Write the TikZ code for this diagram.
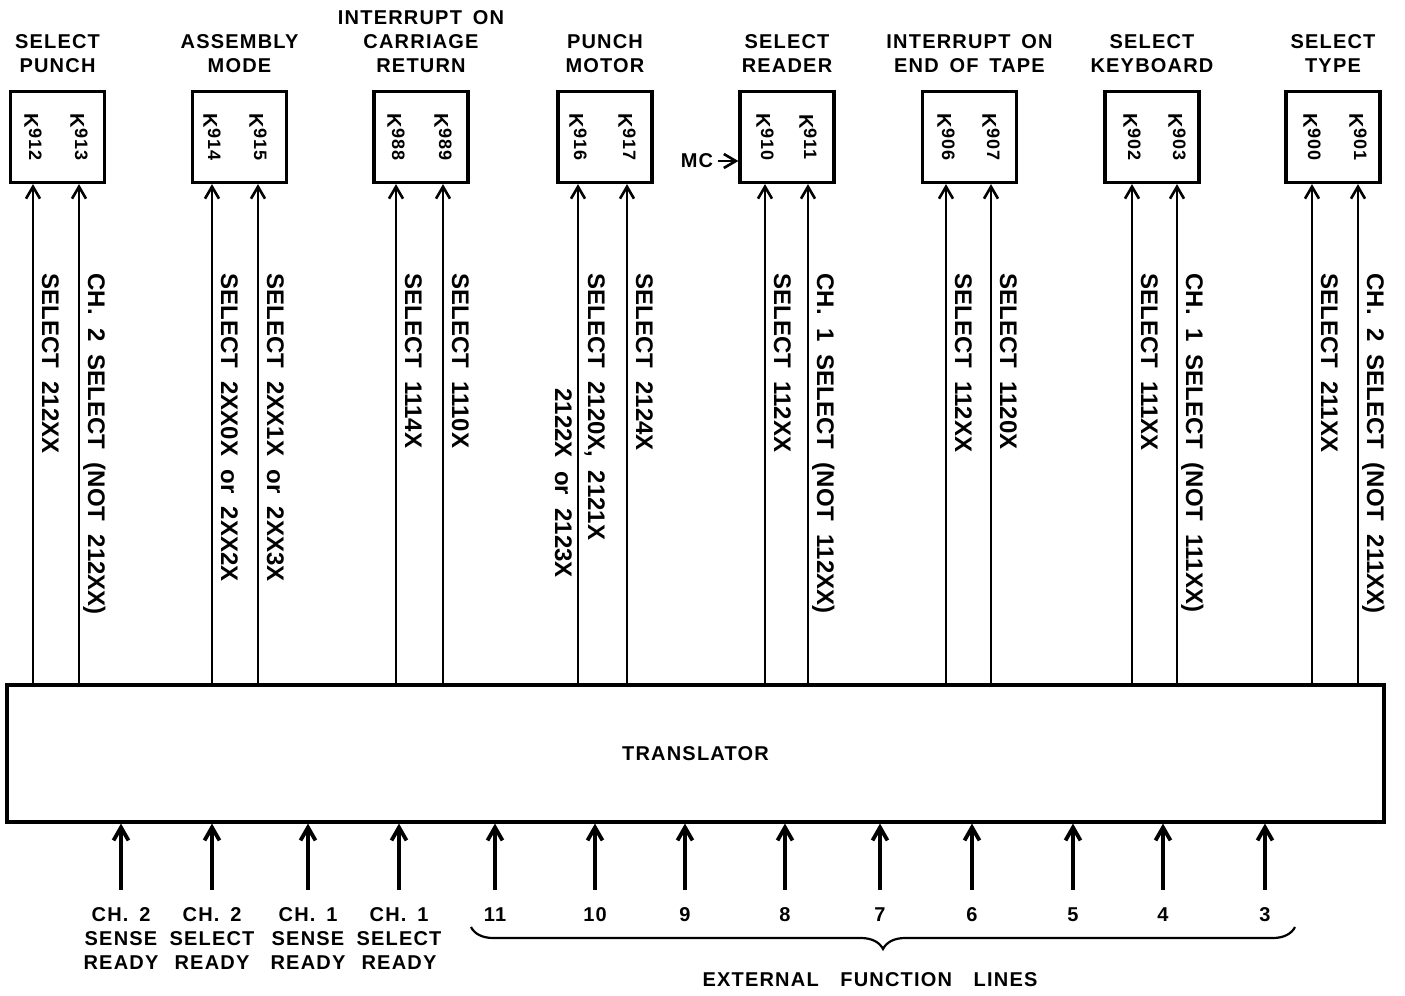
\documentclass[tikz,border=0pt]{standalone}
\usepackage{fontspec}
\setmainfont{Liberation Sans}[LetterSpace=6,WordSpace=1.6]
\newfontfamily\vfont{Liberation Sans}[WordSpace=2]
\usetikzlibrary{arrows.meta,positioning,decorations.pathreplacing}

\newcommand{\kno}[1]{K\raisebox{.45ex}{\fontsize{9}{9}\selectfont#1}}

\tikzset{
  relay/.style={draw,line width=1.6pt,minimum width=47pt,minimum height=45.5pt,inner sep=0},
  title/.style={align=center,inner sep=0,font=\bfseries\fontsize{10}{12}\selectfont},
  kl/.style={rotate=-90,inner sep=0,font=\bfseries\fontsize{10}{10}\selectfont},
  vl/.style={rotate=-90,anchor=base west,inner sep=0,font=\vfont\bfseries\fontsize{12}{13}\selectfont},
  sig/.style={line width=1.3pt,-{Straight Barb[length=6pt,width=7pt]}},
  inp/.style={line width=1.9pt,-{Straight Barb[length=6.5pt,width=7.5pt]}},
  lbl/.style={anchor=north,align=center,inner sep=0,font=\bfseries\fontsize{10}{12}\selectfont}
}

\begin{document}
\begin{tikzpicture}[x=0.5pt,y=-0.5pt]
\useasboundingbox (0,0) rectangle (1405,996);

% relays
\node[relay] (punch) at (57.5,137) {};
\node[relay] (asm) at (239.5,137) {};
\node[relay] (cr) at (421,137) {};
\node[relay] (motor) at (605,137) {};
\node[relay] (reader) at (787,137) {};
\node[relay] (eot) at (969.5,137) {};
\node[relay] (kbd) at (1152,137) {};
\node[relay] (type) at (1333,137) {};

\node[title,above=8.5pt of punch] {SELECT\\PUNCH};
\node[title,above=8.5pt of asm] {ASSEMBLY\\MODE};
\node[title,above=8.5pt of cr] {INTERRUPT ON\\CARRIAGE\\RETURN};
\node[title,above=8.5pt of motor] {PUNCH\\MOTOR};
\node[title,above=8.5pt of reader] {SELECT\\READER};
\node[title,above=8.5pt of eot] {INTERRUPT ON\\END OF TAPE};
\node[title,above=8.5pt of kbd] {SELECT\\KEYBOARD};
\node[title,above=8.5pt of type] {SELECT\\TYPE};

\node[kl] (k912) at (33,137) {\kno{912}};
\node[kl] (k913) at (79,137) {\kno{913}};
\node[kl] (k914) at (212,137) {\kno{914}};
\node[kl] (k915) at (258,137) {\kno{915}};
\node[kl] (k988) at (396,137) {\kno{988}};
\node[kl] (k989) at (443,137) {\kno{989}};
\node[kl] (k916) at (578,137) {\kno{916}};
\node[kl] (k917) at (627,137) {\kno{917}};
\node[kl] (k910) at (765,137) {\kno{910}};
\node[kl] (k911) at (808,137) {\kno{911}};
\node[kl] (k906) at (946,137) {\kno{906}};
\node[kl] (k907) at (991,137) {\kno{907}};
\node[kl] (k902) at (1132,137) {\kno{902}};
\node[kl] (k903) at (1177,137) {\kno{903}};
\node[kl] (k900) at (1312,137) {\kno{900}};
\node[kl] (k901) at (1358,137) {\kno{901}};

\node[title,inner sep=0] (mc) at (697,161) {MC};
\draw[sig,shorten <=2pt] (mc) -- (reader.west |- mc);

% translator
\node[draw,line width=1.6pt,minimum width=688.5pt,minimum height=68.5pt,
  font=\bfseries\fontsize{10}{12}\selectfont] (tr) at (695.5,753.5) {TRANSLATOR};

\draw[sig] (tr.north -| k912) -- (punch.south -| k912);
\draw[sig] (tr.north -| k913) -- (punch.south -| k913);
\draw[sig] (tr.north -| k914) -- (asm.south -| k914);
\draw[sig] (tr.north -| k915) -- (asm.south -| k915);
\draw[sig] (tr.north -| k988) -- (cr.south -| k988);
\draw[sig] (tr.north -| k989) -- (cr.south -| k989);
\draw[sig] (tr.north -| k916) -- (motor.south -| k916);
\draw[sig] (tr.north -| k917) -- (motor.south -| k917);
\draw[sig] (tr.north -| k910) -- (reader.south -| k910);
\draw[sig] (tr.north -| k911) -- (reader.south -| k911);
\draw[sig] (tr.north -| k906) -- (eot.south -| k906);
\draw[sig] (tr.north -| k907) -- (eot.south -| k907);
\draw[sig] (tr.north -| k902) -- (kbd.south -| k902);
\draw[sig] (tr.north -| k903) -- (kbd.south -| k903);
\draw[sig] (tr.north -| k900) -- (type.south -| k900);
\draw[sig] (tr.north -| k901) -- (type.south -| k901);

% line labels
\node[vl] (l1) at (42,273) {SELECT 212XX};
\node[vl] (l2) at (88,273) {CH. 2 SELECT (NOT 212XX)};
\node[vl] (l3) at (221,273) {SELECT 2XX0X or 2XX2X};
\node[vl] (l4) at (267,273) {SELECT 2XX1X or 2XX3X};
\node[vl] (l5) at (405,273) {SELECT 1114X};
\node[vl] (l6) at (452,273) {SELECT 1110X};
\node[vl] (l7) at (588,273) {SELECT 2120X, 2121X};
\node[vl] (l7b) at (555,388) {2122X or 2123X};
\node[vl] (l8) at (636,273) {SELECT 2124X};
\node[vl] (l9) at (774,273) {SELECT 112XX};
\node[vl] (l10) at (817,273) {CH. 1 SELECT (NOT 112XX)};
\node[vl] (l11) at (955,273) {SELECT 112XX};
\node[vl] (l12) at (1000,273) {SELECT 1120X};
\node[vl] (l13) at (1141,273) {SELECT 111XX};
\node[vl] (l14) at (1186,273) {CH. 1 SELECT (NOT 111XX)};
\node[vl] (l15) at (1321,273) {SELECT 211XX};
\node[vl] (l16) at (1367,273) {CH. 2 SELECT (NOT 211XX)};

% inputs
\node[lbl] (s2) at (121,907) {CH. 2\\SENSE\\READY};
\node[lbl] (r2) at (212,907) {CH. 2\\SELECT\\READY};
\node[lbl] (s1) at (308,907) {CH. 1\\SENSE\\READY};
\node[lbl] (r1) at (399,907) {CH. 1\\SELECT\\READY};
\node[lbl] (n11) at (495,907) {11};
\node[lbl] (n10) at (595,907) {10};
\node[lbl] (n9) at (685,907) {9};
\node[lbl] (n8) at (785,907) {8};
\node[lbl] (n7) at (880,907) {7};
\node[lbl] (n6) at (972,907) {6};
\node[lbl] (n5) at (1073,907) {5};
\node[lbl] (n4) at (1163,907) {4};
\node[lbl] (n3) at (1265,907) {3};

\foreach \i in {s2,r2,s1,r1,n11,n10,n9,n8,n7,n6,n5,n4,n3}
  \draw[inp] ([yshift=8.5pt]\i.north) -- (tr.south -| \i.north);

\draw[line width=1.1pt,decorate,decoration={brace,mirror,amplitude=11pt}] (471,927) -- (1295,927);
\node[title] (ext) at (870,980) {EXTERNAL\ \ FUNCTION\ \ LINES};
\end{tikzpicture}
\end{document}
